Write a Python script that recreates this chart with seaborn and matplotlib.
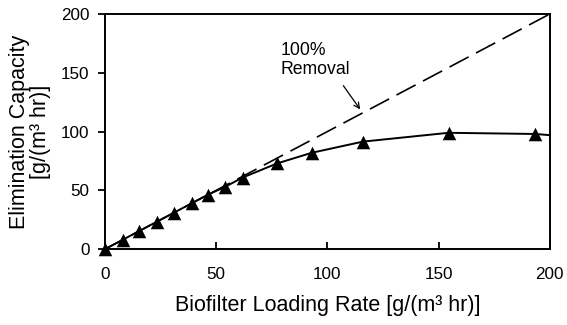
import matplotlib
matplotlib.use("Agg")
import matplotlib.pyplot as plt
import seaborn as sns
import pandas as pd

# Data
loading = [0, 8, 15.5, 23.5, 31, 39, 46.5, 54, 62, 77.5, 93, 116, 154.5, 193.5]
capacity = [0, 8, 15.5, 23.5, 31, 39, 46.5, 53, 61, 73, 82, 91.5, 99, 98]
curve_x = loading + [200]
curve_y = capacity + [97]
removal_x = [0, 200]
removal_y = [0, 200]
ticks = [0, 50, 100, 150, 200]

sns.set_style("ticks")
plt.rcParams['font.family'] = ['Liberation Sans', 'DejaVu Sans']
plt.rcParams['text.color'] = 'black'
plt.rcParams['axes.labelcolor'] = 'black'
plt.rcParams['xtick.color'] = 'black'
plt.rcParams['ytick.color'] = 'black'

fig = plt.figure(figsize=(5.67, 3.25), dpi=100)
ax = fig.add_axes([0.1847, 0.233, 0.785, 0.724])

pts = pd.DataFrame({"x": loading, "y": capacity})
crv = pd.DataFrame({"x": curve_x, "y": curve_y})
rem = pd.DataFrame({"x": removal_x, "y": removal_y})

sns.lineplot(data=rem, x="x", y="y", ax=ax, color="black", lw=1.2,
             dashes=False, sort=False)
ax.lines[-1].set_dashes([13, 5])
sns.lineplot(data=crv, x="x", y="y", ax=ax, color="black", lw=1.4, sort=True)
sns.scatterplot(data=pts, x="x", y="y", ax=ax, marker="^", s=95,
                color="black", edgecolor="black", linewidth=0, zorder=5,
                clip_on=False)

ax.set_xlim(0, 200)
ax.set_ylim(0, 200)
ax.set_xticks(ticks)
ax.set_yticks(ticks)
ax.tick_params(axis="x", direction="in", length=5, width=1.3, labelsize=12.3, pad=13)
ax.tick_params(axis="y", direction="out", length=5, width=1.3, labelsize=12.3, pad=6)
for s in ax.spines.values():
    s.set_linewidth(1.4)
    s.set_color("black")

ax.set_xlabel("Biofilter Loading Rate [g/(m³ hr)]", fontsize=15.5, labelpad=9)
ax.set_ylabel("Elimination Capacity\n[g/(m³ hr)]", fontsize=15.5, labelpad=7,
              linespacing=1.0)

ax.annotate("100%\nRemoval", xy=(115.5, 117), xytext=(79, 176.5),
            fontsize=12.7, ha="left", va="top", linespacing=1.15)
ax.annotate("", xy=(115.5, 117), xytext=(106.5, 141),
            arrowprops=dict(arrowstyle="->", color="black", lw=0.9))

fig.savefig("out.png", dpi=100)
